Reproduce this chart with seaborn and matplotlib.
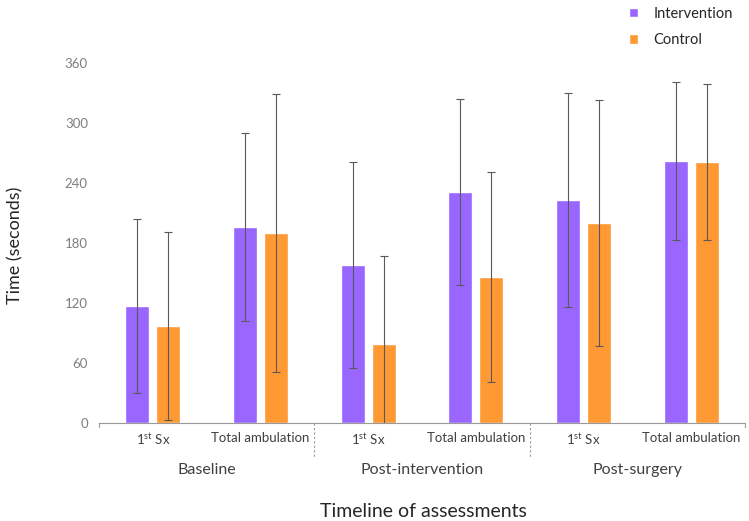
import matplotlib
matplotlib.use("Agg")
import matplotlib.pyplot as plt
import seaborn as sns
import pandas as pd

# data
phases = ["Baseline", "Post-intervention", "Post-surgery"]
measures = ["1$^{\\mathrm{st}}$ Sx", "Total ambulation"]
groups = ["Intervention", "Control"]
intervention_mean = [117, 196, 158, 231, 223, 262]
intervention_sd = [87, 94, 103, 93, 107, 79]
control_mean = [97, 190, 79, 146, 200, 261]
control_sd = [94, 139, 88, 105, 123, 78]

cats = [p + "|" + m for p in phases for m in measures]
df = pd.DataFrame({
    "cat": cats * 2,
    "group": ["Intervention"] * 6 + ["Control"] * 6,
    "mean": intervention_mean + control_mean,
    "sd": intervention_sd + control_sd,
})

sns.set_style("white")
plt.rcParams["font.family"] = ["Lato", "DejaVu Sans"]
plt.rcParams["mathtext.fontset"] = "custom"
plt.rcParams["mathtext.rm"] = "Lato"

fig = plt.figure(figsize=(7.49, 5.21), dpi=100)
ax = fig.add_axes([0.1322, 0.1875, 0.8625, 0.691])

palette = {"Intervention": "#9966FF", "Control": "#FF9933"}
sns.barplot(data=df, x="cat", y="mean", hue="group", order=cats,
            hue_order=groups, palette=palette, width=0.58, gap=0.23,
            errorbar=None, saturation=1, ax=ax, legend=True)

# error bars at bar centres
for cont, g in zip(ax.containers, groups):
    sub = df[df["group"] == g].set_index("cat").loc[cats]
    xs = [b.get_x() + b.get_width() / 2 for b in cont]
    ax.errorbar(xs, sub["mean"], yerr=sub["sd"], fmt="none",
                ecolor="#595959", elinewidth=0.8, capsize=3, capthick=0.8)

ax.set_ylim(0, 360)
ax.set_xlim(-0.5, 5.5)
ax.set_xlabel("")
ax.set_ylabel("")
ax.set_yticks(range(0, 361, 60))
ax.tick_params(axis="y", length=0, labelsize=9.5, labelcolor="#7f7f7f", pad=8)
ax.set_xticks(range(6))
ax.set_xticklabels(measures * 3, fontsize=9.5, color="#404040")
ax.tick_params(axis="x", length=0, pad=6)
for s in ["top", "right", "left"]:
    ax.spines[s].set_visible(False)
ax.spines["bottom"].set_color("#999999")
ax.spines["bottom"].set_linewidth(0.8)

# end ticks and dashed group separators
for xb in [-0.5, 5.5]:
    ax.plot([xb, xb], [0, -4], color="#999999", lw=0.8, clip_on=False)
for xb in [1.5, 3.5]:
    ax.plot([xb, xb], [0, -34], color="#999999", lw=0.8, ls=(0, (2, 2)),
            clip_on=False)

for i, p in enumerate(phases):
    ax.text(2 * i + 0.5, -47, p, ha="center", va="center", fontsize=11.5,
            color="#404040")

fig.text(0.565, 0.018, "Timeline of assessments", ha="center", va="center",
         fontsize=14, color="#262626")
fig.text(0.02, 0.53, "Time (seconds)", ha="center", va="center",
         rotation=90, fontsize=13, color="#262626")

leg = ax.legend(loc="upper left", bbox_to_anchor=(0.822, 1.012),
                bbox_transform=fig.transFigure, frameon=False,
                fontsize=10.5, handlelength=0.6, handleheight=0.6,
                labelspacing=0.85, handletextpad=1.1)
for t in leg.get_texts():
    t.set_color("#262626")

fig.savefig("out.png", dpi=100)
